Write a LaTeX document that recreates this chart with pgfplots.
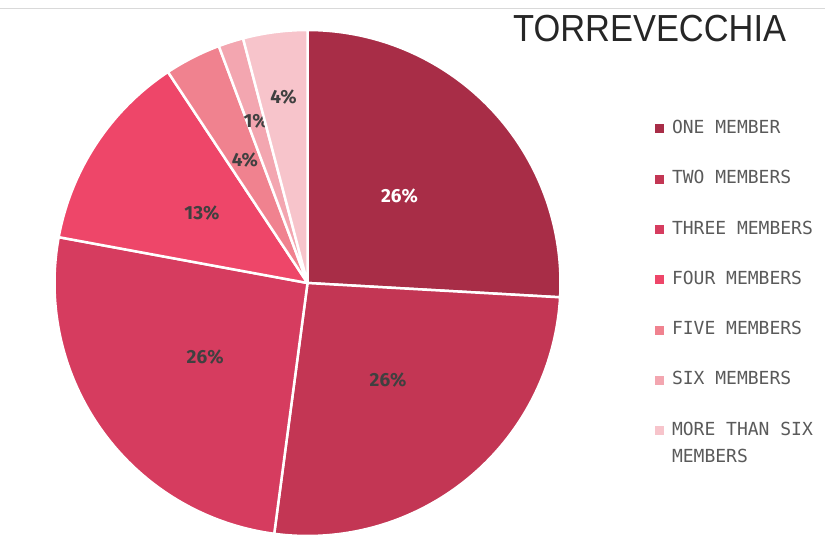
\documentclass[border=0pt]{standalone}
\usepackage{pgfplots}
\pgfplotsset{compat=1.18}
\usepackage{pgfplotstable}
\usepackage{fontspec}
\setmainfont{Liberation Sans}
\newfontfamily\legfont{DejaVu Sans Mono}
\newfontfamily\pctfont{Fira Sans}
\definecolor{pie0}{HTML}{A82D47}
\definecolor{pie1}{HTML}{C33654}
\definecolor{pie2}{HTML}{D63C5F}
\definecolor{pie3}{HTML}{EE4669}
\definecolor{pie4}{HTML}{F0828F}
\definecolor{pie5}{HTML}{F3A6B0}
\definecolor{pie6}{HTML}{F7C4CB}
\definecolor{txtdark}{HTML}{404040}
\definecolor{leggray}{HTML}{5A5A5A}

% share (percent), printed label, label radius, white text?
\pgfplotstableread{
share label rad white
25.9  26    0.50 1
26.2  26    0.50 0
25.8  26    0.50 0
12.8  13    0.50 0
3.6   4     0.545 0
1.6   1     0.67 0
4.1   4     0.74 0
}\pietable

\begin{document}
\begin{tikzpicture}[x=1pt,y=1pt]
\path[use as bounding box] (0,0) rectangle (825,552);
\draw[color=black!15, line width=1pt] (0,543) -- (825,543);
\node[anchor=base west, inner sep=0pt, text=black!85] at (513,510)
  {\scalebox{0.913}[1]{\fontsize{37.7}{40}\selectfont TORREVECCHIA}};

\begin{axis}[
  at={(54.5pt,16pt)}, anchor=south west,
  scale only axis, width=506pt, height=506pt,
  xmin=-1, xmax=1, ymin=-1, ymax=1,
  hide axis, clip=false,
  legend style={at={(1.18676,0.82115)}, anchor=north west, draw=none, fill=none,
    inner sep=0pt, outer sep=0pt, row sep=33.3pt,
    nodes={inner sep=0pt, text height=13pt, text depth=4pt},
    font=\legfont\fontsize{18}{21}\selectfont, text=leggray,
    /tikz/every odd column/.append style={column sep=8pt}},
  legend cell align=left,
  legend image code/.code={\fill[#1, draw=none] (0pt,-4.5pt) rectangle (9pt,4.5pt);},
]
\def\cum{0}
\pgfplotsforeachungrouped \i in {0,...,6}{
  \pgfplotstablegetelem{\i}{share}\of\pietable \let\v\pgfplotsretval
  \pgfplotstablegetelem{\i}{label}\of\pietable \let\lab\pgfplotsretval
  \pgfplotstablegetelem{\i}{rad}\of\pietable \let\rr\pgfplotsretval
  \pgfplotstablegetelem{\i}{white}\of\pietable \let\wh\pgfplotsretval
  \pgfmathsetmacro\a{90-3.6*\cum}
  \pgfmathsetmacro\b{90-3.6*(\cum+\v)}
  \pgfmathsetmacro\m{(\a+\b)/2}
  \pgfmathsetmacro\lx{\rr*cos(\m)}
  \pgfmathsetmacro\ly{\rr*sin(\m)}
  \ifnum\wh=1 \def\tc{white}\else\def\tc{txtdark}\fi
  \edef\cmd{\noexpand\addplot[fill=pie\i, draw=white, line width=2.5pt, line join=round,
      domain=\b:\a, samples=80, variable=\noexpand\t]
      ({cos(\noexpand\t)},{sin(\noexpand\t)}) -- (axis cs:0,0) -- cycle;
    \noexpand\node[font=\noexpand\pctfont\noexpand\bfseries\noexpand\fontsize{19}{20}\noexpand\selectfont,
      text=\tc, inner sep=0pt] at (axis cs:\lx,\ly) {\lab\noexpand\%};}
  \cmd
  \pgfmathsetmacro\cum{\cum+\v}
}
\addlegendentry{ONE MEMBER}
\addlegendentry{TWO MEMBERS}
\addlegendentry{THREE MEMBERS}
\addlegendentry{FOUR MEMBERS}
\addlegendentry{FIVE MEMBERS}
\addlegendentry{SIX MEMBERS}
\addlegendentry{\vtop{\baselineskip=27pt \hbox{MORE THAN SIX}\hbox{MEMBERS}}}
\end{axis}
\end{tikzpicture}
\end{document}
